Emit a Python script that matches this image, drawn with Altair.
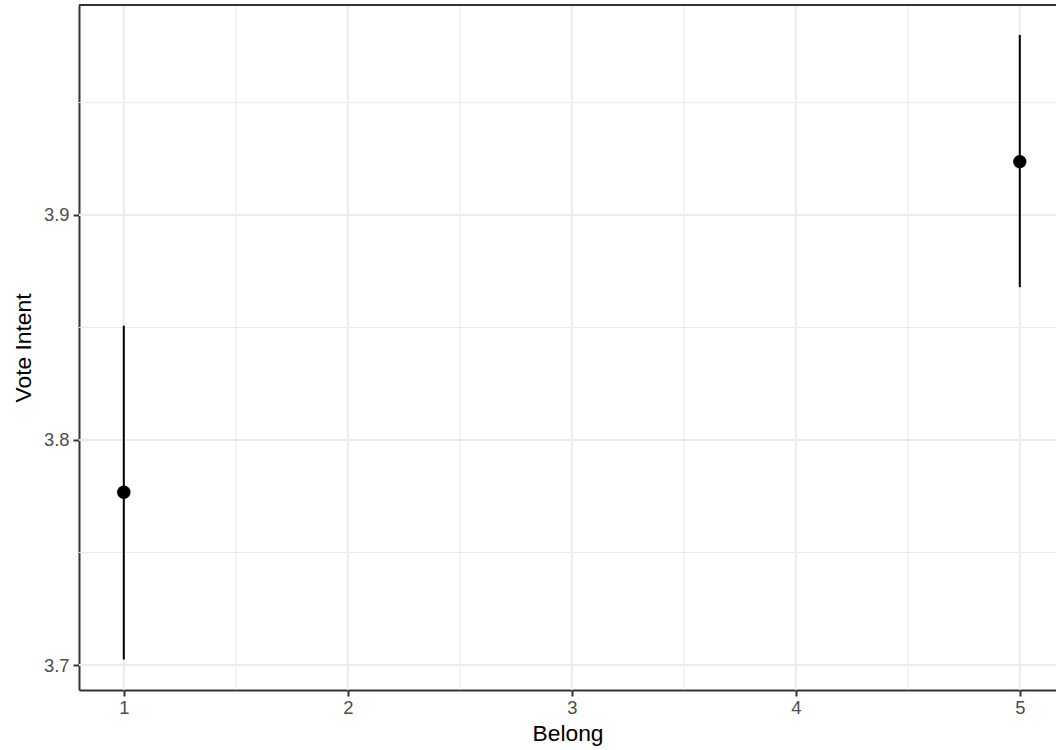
import altair as alt
import pandas as pd

# Data
belong = [1, 5]
vote_mean = [3.7768, 3.9237]
vote_low = [3.7024, 3.8679]
vote_high = [3.8508, 3.9800]

x_major = [1, 2, 3, 4, 5]
x_minor = [1.5, 2.5, 3.5, 4.5]
y_major = [3.7, 3.8, 3.9]
y_minor = [3.75, 3.85, 3.95]

df = pd.DataFrame({"belong": belong, "mean": vote_mean, "low": vote_low, "high": vote_high})
gx_major = pd.DataFrame({"v": x_major})
gx_minor = pd.DataFrame({"v": x_minor})
gy_major = pd.DataFrame({"v": y_major})
gy_minor = pd.DataFrame({"v": y_minor})

X_DOMAIN = [0.8, 5.1616]
Y_DOMAIN = [3.6889, 3.9933]
W, H = 977, 685

xs = alt.Scale(domain=X_DOMAIN, nice=False, zero=False)
ys = alt.Scale(domain=Y_DOMAIN, nice=False, zero=False)

grid_col = "#EBEBEB"

minor_v = alt.Chart(gx_minor).mark_rule(color=grid_col, strokeWidth=1.1).encode(
    x=alt.X("v:Q", scale=xs))
minor_h = alt.Chart(gy_minor).mark_rule(color=grid_col, strokeWidth=1.1).encode(
    y=alt.Y("v:Q", scale=ys))
major_v = alt.Chart(gx_major).mark_rule(color=grid_col, strokeWidth=2.2).encode(
    x=alt.X("v:Q", scale=xs))
major_h = alt.Chart(gy_major).mark_rule(color=grid_col, strokeWidth=2.2).encode(
    y=alt.Y("v:Q", scale=ys))

axis_common = dict(
    grid=False, domain=True, domainColor="#333333", domainWidth=2,
    tickColor="#333333", tickWidth=2, tickSize=6,
    labelColor="#4D4D4D", labelFontSize=18.4, labelFont="Liberation Sans",
    titleColor="#000000", titleFontSize=22.8, titleFont="Liberation Sans",
    titleFontWeight="normal",
)

bars = alt.Chart(df).mark_rule(color="black", strokeWidth=2).encode(
    x=alt.X("belong:Q", scale=xs,
            axis=alt.Axis(values=x_major, format="d", title="Belong",
                          labelPadding=2, titlePadding=6, **axis_common)),
    y=alt.Y("low:Q", scale=ys,
            axis=alt.Axis(values=y_major, format=".1f", title="Vote Intent",
                          labelPadding=4, titlePadding=8, **axis_common)),
    y2="high:Q",
)
points = alt.Chart(df).mark_circle(color="black", opacity=1, size=180).encode(
    x=alt.X("belong:Q", scale=xs),
    y=alt.Y("mean:Q", scale=ys),
)
top_border = alt.Chart(df).mark_rule(color="#333333", strokeWidth=2).encode(
    y=alt.value(0), x=alt.value(0), x2=alt.value(W + 10))

chart = alt.layer(minor_v, minor_h, major_v, major_h, bars, points, top_border).properties(
    width=W, height=H,
    autosize=alt.AutoSizeParams(type="none"),
    padding={"left": 79, "top": 5, "right": 0, "bottom": 60},
    background="white",
).configure_view(strokeWidth=0)

chart.save("out.html", embed_options={"renderer": "svg", "actions": False})
